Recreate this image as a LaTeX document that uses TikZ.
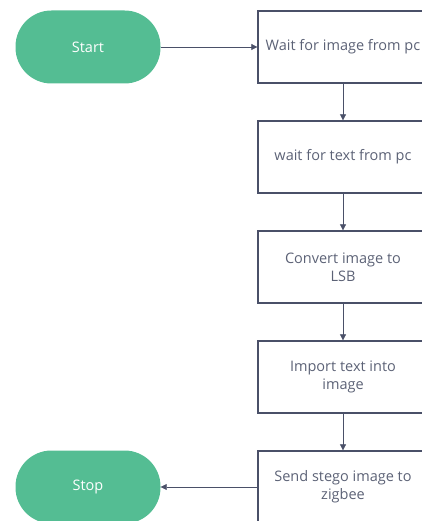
\documentclass[tikz,border=0pt]{standalone}
\usepackage{fontspec}
\setmainfont{Open Sans}
\usetikzlibrary{arrows.meta}
\definecolor{termgreen}{HTML}{54BD93}
\definecolor{boxline}{HTML}{4A5068}
\definecolor{boxtext}{HTML}{5C6276}
\tikzset{
  terminal/.style={rectangle, rounded corners=36pt, fill=termgreen, draw=none, minimum width=145pt, minimum height=73pt, text=white, font=\fontsize{14.5}{18}\selectfont},
  stepbox/.style={rectangle, draw=boxline, line width=1.3pt, minimum width=170pt, minimum height=72pt, text=boxtext, align=center, font=\fontsize{14.5}{18}\selectfont},
  flow/.style={draw=boxline, line width=0.7pt, -{Triangle[length=6pt,width=6pt]}}
}
\begin{document}
\begin{tikzpicture}[x=1pt,y=-1pt]
        \useasboundingbox (0,0) rectangle (422,521);
        \clip (0,0) rectangle (422,521);
        % Terminals
        \node[terminal] (start) at (88,47) {Start};
        \node[terminal] (stop) at (88,487) {Stop};

        % Steps
        \node[stepbox] (imgwait) at (343,47) {Wait for image from pc};
        \node[stepbox] (txtwait) at (343,157) {wait for text from pc};
        \node[stepbox] (convert) at (343,267) {Convert image to\\LSB};
        \node[stepbox] (import) at (343,377) {Import text into\\image};
        \node[stepbox] (send) at (343,487) {Send stego image to\\zigbee};

        % Arrows
        \draw[flow] (start) -- (imgwait);
        \draw[flow] (imgwait) -- (txtwait);
        \draw[flow] (txtwait) -- (convert);
        \draw[flow] (convert) -- (import);
        \draw[flow] (import) -- (send);
        \draw[flow] (send) -- (stop);
    \end{tikzpicture}
\end{document}
